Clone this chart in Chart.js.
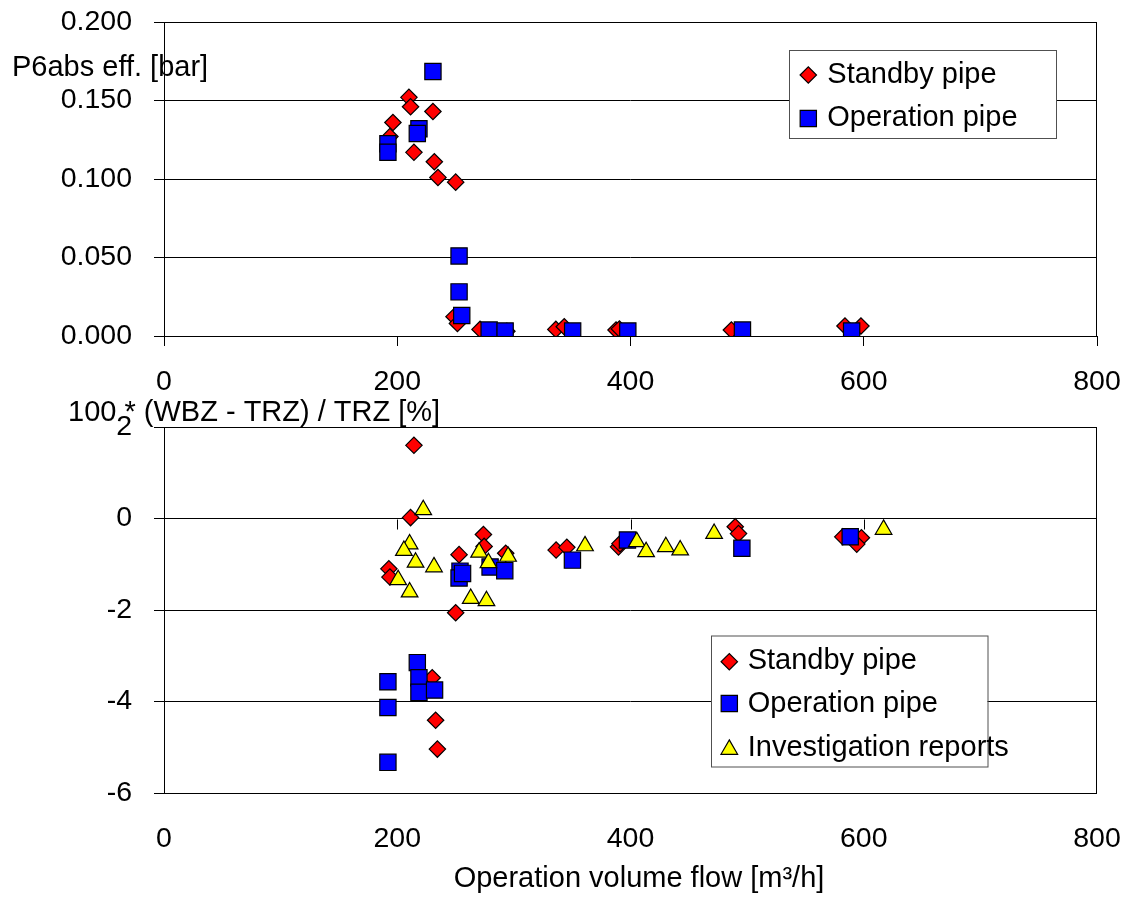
<!DOCTYPE html>
<html><head><meta charset="utf-8">
<script src="https://cdn.jsdelivr.net/npm/chart.js@4.4.1/dist/chart.umd.min.js"></script>
<style>
html,body{margin:0;padding:0;background:#fff;}
#wrap{position:relative;width:1126px;height:898px;background:#fff;}
canvas{position:absolute;left:0;top:0;}
</style></head><body>
<div id="wrap"><canvas id="c1" width="1126" height="898"></canvas><canvas id="c2" width="1126" height="898"></canvas></div>
<script>
// ---------- data ----------
const xTickValues = [0, 200, 400, 600, 800];
const topYTickValues = [0, 0.05, 0.1, 0.15, 0.2];
const botYTickValues = [-6, -4, -2, 0, 2];
const seriesNames = ['Standby pipe', 'Operation pipe', 'Investigation reports'];
const topYTitle = 'P6abs eff. [bar]';
const botYTitle = '100 * (WBZ - TRZ) / TRZ [%]';
const xTitle = 'Operation volume flow [m³/h]';

const topStandbyX = [210, 211.4, 196.3, 193.7, 230.6, 214.3, 231.8, 234.9, 250.1, 248.7, 251.6, 271, 294, 336, 343.2, 387.6, 390.5, 486.5, 583.9, 597.6];
const topStandbyY = [0.152, 0.146, 0.136, 0.127, 0.143, 0.117, 0.111, 0.101, 0.098, 0.0123, 0.008, 0.0042, 0.003, 0.0042, 0.0059, 0.0038, 0.0045, 0.0038, 0.0064, 0.0064];
const topOperationX = [230.6, 218.6, 217.2, 192, 192, 253, 253, 255.3, 278.8, 292.5, 350.4, 397.7, 496, 589.6];
const topOperationY = [0.1685, 0.132, 0.129, 0.1224, 0.117, 0.051, 0.0281, 0.0131, 0.0038, 0.0032, 0.0032, 0.0032, 0.0038, 0.0032];

const botStandbyX = [214.3, 211.4, 273.9, 274.5, 253, 293, 192.8, 193.7, 250.1, 230, 232.9, 234.4, 336.2, 345.4, 389.7, 391, 489.8, 492.6, 582, 598, 594];
const botStandbyY = [1.60, 0.02, -0.35, -0.61, -0.79, -0.76, -1.10, -1.28, -2.06, -3.48, -4.41, -5.04, -0.69, -0.63, -0.62, -0.55, -0.18, -0.33, -0.40, -0.42, -0.56];
const botOperationX = [217.2, 218.6, 218.6, 232, 192, 192, 192, 253.8, 253, 256, 279.6, 292.2, 350.2, 397.4, 495.5, 588.4];
const botOperationY = [-3.15, -3.48, -3.80, -3.75, -3.57, -4.13, -5.33, -1.15, -1.30, -1.20, -1.06, -1.14, -0.91, -0.47, -0.65, -0.40];
const botReportsX = [222.3, 210.6, 205.7, 215.7, 231.5, 200.8, 210.6, 270.2, 278.2, 295, 263, 276.5, 361, 405.4, 413.4, 430.3, 442.6, 471.7, 617];
const botReportsY = [0.19, -0.56, -0.70, -0.96, -1.06, -1.34, -1.61, -0.74, -0.97, -0.83, -1.75, -1.80, -0.60, -0.51, -0.73, -0.62, -0.69, -0.33, -0.24];

// ---------- styles ----------
const FONT = '"Liberation Sans", Arial, Helvetica, sans-serif';
const FS = 29;      // titles & legend
const FT = 28.5;    // tick labels
const RED = '#FF0000', BLUE = '#0000FF', YELLOW = '#FFFF00';
const MARK = {
  diamond: {pointStyle: 'rectRot', radius: 8.2, color: RED},
  square: {pointStyle: 'rect', radius: 11.5, color: BLUE},
  triangle: {pointStyle: 'triangle', radius: 9.6, color: YELLOW}
};

Chart.defaults.font.family = FONT;
Chart.defaults.font.size = FT;
Chart.defaults.color = '#000';

function pts(xs, ys) { return xs.map((x, i) => ({x: x, y: ys[i]})); }

function ds(label, xs, ys, m, order) {
  return {
    label: label, data: pts(xs, ys), order: order,
    pointStyle: m.pointStyle, pointRadius: m.radius, pointHoverRadius: m.radius,
    backgroundColor: m.color, borderColor: '#000', pointBorderWidth: 1.2, showLine: false
  };
}

function drawMarker(ctx, m, x, y) {
  const r = m.radius;
  ctx.save();
  ctx.fillStyle = m.color; ctx.strokeStyle = '#000'; ctx.lineWidth = 1.2;
  ctx.beginPath();
  if (m.pointStyle === 'rectRot') {
    ctx.moveTo(x - r, y); ctx.lineTo(x, y - r); ctx.lineTo(x + r, y); ctx.lineTo(x, y + r);
  } else if (m.pointStyle === 'rect') {
    const s = Math.SQRT1_2 * r; ctx.rect(x - s, y - s, 2 * s, 2 * s);
  } else {
    const a = 2 * Math.PI / 3;
    for (let k = 0; k < 3; k++) {
      const px = x + Math.sin(k * a) * r, py = y - Math.cos(k * a) * r;
      if (k === 0) ctx.moveTo(px, py); else ctx.lineTo(px, py);
    }
  }
  ctx.closePath(); ctx.fill(); ctx.stroke();
  ctx.restore();
}

function drawLegend(ctx, box, items) {
  ctx.save();
  ctx.fillStyle = '#fff';
  ctx.fillRect(box.x, box.y, box.w, box.h);
  ctx.strokeStyle = '#505050'; ctx.lineWidth = 1;
  ctx.strokeRect(box.x + 0.5, box.y + 0.5, box.w, box.h);
  ctx.font = FS + 'px ' + FONT; ctx.fillStyle = '#000'; ctx.textBaseline = 'alphabetic'; ctx.textAlign = 'left';
  items.forEach(it => {
    drawMarker(ctx, it.m, it.mx, it.my);
    ctx.fillText(it.text, it.tx, it.ty);
  });
  ctx.restore();
}

function framePlugin(extra) {
  return {
    id: 'frame' + Math.random().toString(36).slice(2),
    beforeDatasetsDraw(chart) {
      const a = chart.chartArea, ctx = chart.ctx;
      ctx.save();
      ctx.strokeStyle = '#000'; ctx.lineWidth = 1;
      ctx.strokeRect(Math.round(a.left) + 0.5, Math.round(a.top) + 0.5, Math.round(a.right - a.left) - 1, Math.round(a.bottom - a.top));
      if (extra && extra.before) extra.before(chart, ctx);
      ctx.restore();
    },
    afterDraw(chart) {
      if (extra && extra.after) { chart.ctx.save(); extra.after(chart, chart.ctx); chart.ctx.restore(); }
    }
  };
}

function zeroPad(s) { s.paddingTop = 0; s.paddingBottom = 0; s.paddingLeft = 0; s.paddingRight = 0; }

function baseOptions(cfg) {
  return {
    responsive: false, animation: false, devicePixelRatio: 1,
    layout: {padding: {left: 0, right: 29, top: cfg.top, bottom: 0}},
    plugins: {legend: {display: false}, tooltip: {enabled: false}, title: {display: false}},
    events: [],
    scales: {
      x: {
        type: 'linear', min: 0, max: 800,
        afterBuildTicks: s => { s.ticks = xTickValues.map(v => ({value: v})); },
        ticks: {padding: 19, maxRotation: 0, autoSkip: false, color: '#000', font: {size: FT, family: FONT}},
        grid: {drawOnChartArea: false, drawTicks: true, tickLength: 10, color: '#000', tickColor: cfg.xTickColor, lineWidth: 1},
        border: {display: false},
        afterFit: s => { s.height = 898 - cfg.bottom; zeroPad(s); }
      },
      y: {
        type: 'linear', min: cfg.ymin, max: cfg.ymax,
        afterBuildTicks: s => { s.ticks = cfg.yTicks.map(v => ({value: v})); },
        ticks: {padding: 22, color: '#000', font: {size: FT, family: FONT}, callback: cfg.yFmt},
        grid: {drawOnChartArea: true, drawTicks: true, tickLength: 10, color: '#000', lineWidth: 1},
        border: {display: false},
        afterFit: s => { s.width = 164; zeroPad(s); }
      }
    }
  };
}

// ---------- top chart ----------
new Chart(document.getElementById('c1'), {
  type: 'scatter',
  data: {datasets: [
    ds(seriesNames[0], topStandbyX, topStandbyY, MARK.diamond, 2),
    ds(seriesNames[1], topOperationX, topOperationY, MARK.square, 1)
  ]},
  options: baseOptions({top: 22, bottom: 336, ymin: 0, ymax: 0.2, yTicks: topYTickValues,
    yFmt: v => Number(v).toFixed(3), xTickColor: '#000'}),
  plugins: [framePlugin({
    after(chart, ctx) {
      drawLegend(ctx, {x: 789, y: 50, w: 267, h: 88}, [
        {m: MARK.diamond, mx: 808.3, my: 75, text: seriesNames[0], tx: 827.3, ty: 83},
        {m: MARK.square, mx: 808.3, my: 118.5, text: seriesNames[1], tx: 827.3, ty: 126.3}
      ]);
      ctx.font = FS + 'px ' + FONT; ctx.fillStyle = '#000'; ctx.textAlign = 'left'; ctx.textBaseline = 'alphabetic';
      ctx.fillText(topYTitle, 12, 75.5);
    }
  })]
});

// ---------- bottom chart ----------
new Chart(document.getElementById('c2'), {
  type: 'scatter',
  data: {datasets: [
    ds(seriesNames[0], botStandbyX, botStandbyY, MARK.diamond, 3),
    ds(seriesNames[1], botOperationX, botOperationY, MARK.square, 2),
    ds(seriesNames[2], botReportsX, botReportsY, MARK.triangle, 1)
  ]},
  options: baseOptions({top: 427, bottom: 793, ymin: -6, ymax: 2, yTicks: botYTickValues,
    yFmt: v => String(v), xTickColor: 'rgba(0,0,0,0)'}),
  plugins: [framePlugin({
    before(chart, ctx) {
      const xs = chart.scales.x, ys = chart.scales.y;
      const y0 = Math.round(ys.getPixelForValue(0)) + 0.5;
      ctx.strokeStyle = '#000'; ctx.lineWidth = 1;
      xTickValues.forEach(v => {
        if (v === xs.max) return;
        const px = Math.round(xs.getPixelForValue(v)) + 0.5;
        ctx.beginPath(); ctx.moveTo(px, y0); ctx.lineTo(px, y0 + 10); ctx.stroke();
      });
    },
    after(chart, ctx) {
      drawLegend(ctx, {x: 711, y: 635.5, w: 276.5, h: 131}, [
        {m: MARK.diamond, mx: 729.3, my: 661.7, text: seriesNames[0], tx: 747.7, ty: 668.5},
        {m: MARK.square, mx: 729.3, my: 703.5, text: seriesNames[1], tx: 747.7, ty: 712},
        {m: MARK.triangle, mx: 729.3, my: 749.5, text: seriesNames[2], tx: 747.7, ty: 755.8}
      ]);
      ctx.font = FS + 'px ' + FONT; ctx.fillStyle = '#000'; ctx.textBaseline = 'alphabetic';
      ctx.textAlign = 'left';
      ctx.fillText(botYTitle, 68, 421);
      ctx.textAlign = 'center';
      ctx.fillText(xTitle, 639, 887);
    }
  })]
});
</script>
</body></html>
